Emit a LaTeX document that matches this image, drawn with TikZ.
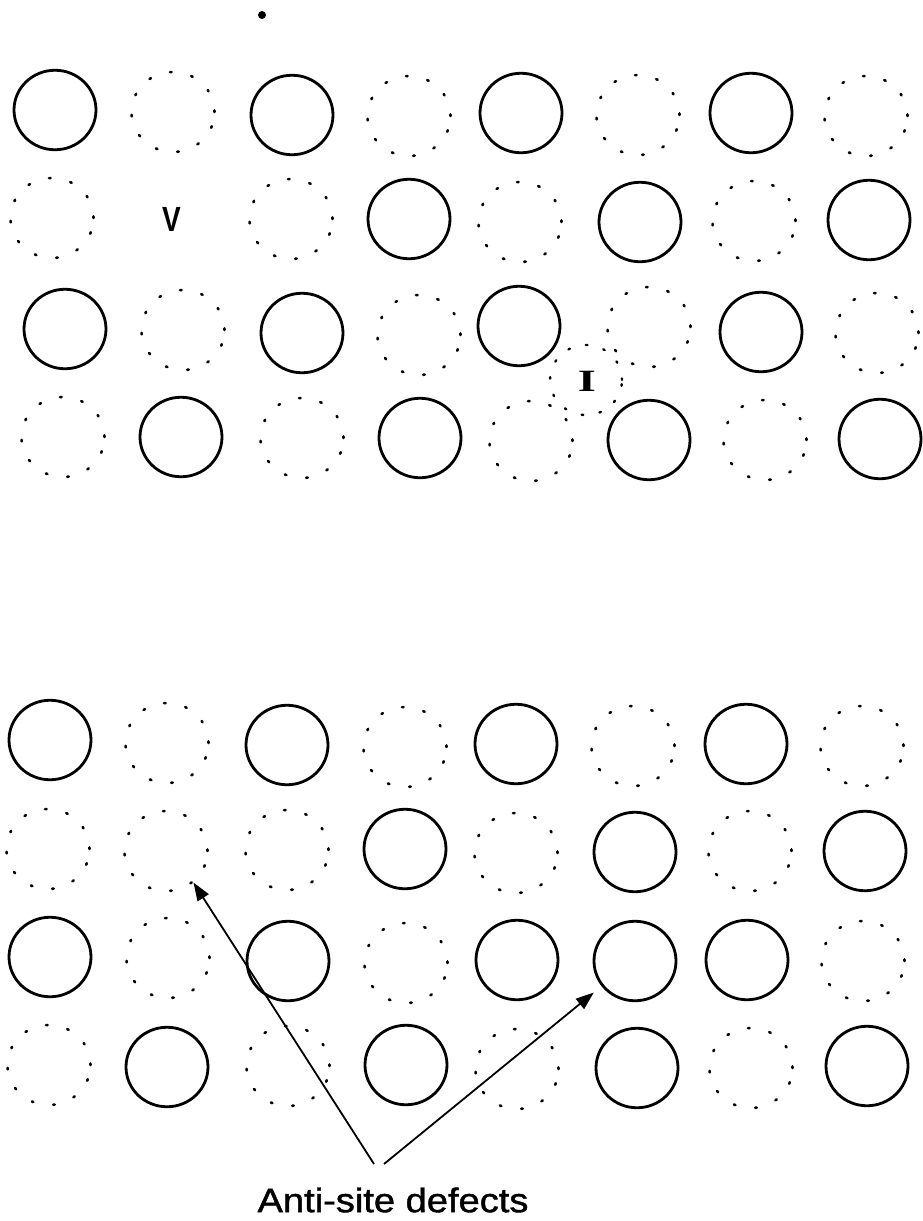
\documentclass[tikz,border=0pt]{standalone}
\usepackage{fontspec}
\usepackage{graphicx}
\setmainfont{Liberation Sans}
\newfontfamily\labelfont[FakeBold=1.2]{Liberation Sans}
\newfontfamily\serifbold{Liberation Serif}
\usetikzlibrary{shapes.geometric,arrows.meta}
\begin{document}
\begin{tikzpicture}[x=1pt,y=-1pt,
  atom/.style={ellipse,draw,line width=2.8pt,minimum width=82pt,minimum height=79.5pt,inner sep=0pt},
  site/.style={ellipse,draw,line width=2.6pt,line cap=round,dash pattern=on 1.6pt off 20.2pt,minimum width=83pt,minimum height=80pt,inner sep=0pt},
  inter/.style={ellipse,draw,line width=2.4pt,line cap=round,dash pattern=on 1.6pt off 16.5pt,minimum width=72pt,minimum height=70pt,inner sep=0pt},
  arrowline/.style={line width=1.8pt,-{Triangle[length=18pt,width=13pt]}},
  lbl/.style={inner sep=0pt}]
\useasboundingbox (0,0) rectangle (923,1221);
% stray dot
\node[circle,fill,minimum size=8pt,inner sep=0pt] (dot) at (262,15) {};
% ---------- top lattice ----------
\node[atom] (t11) at (55,110) {};
\node[site] (t12) at (173,112) {};
\node[atom] (t13) at (292,115) {};
\node[site] (t14) at (409,116) {};
\node[atom] (t15) at (521,113) {};
\node[site] (t16) at (638,115) {};
\node[atom] (t17) at (751,113) {};
\node[site] (t18) at (866,116) {};
\node[site] (t21) at (52,218) {};
\node[lbl,font=\bfseries\fontsize{35}{38}\selectfont] (vac) at (172,219) {\scalebox{0.8}[1]{V}};
\node[site] (t23) at (291,219) {};
\node[atom] (t24) at (409,219) {};
\node[site] (t25) at (520,222) {};
\node[atom] (t26) at (640,222) {};
\node[site] (t27) at (754,221) {};
\node[atom] (t28) at (869,220) {};
\node[atom] (t31) at (65,329) {};
\node[site] (t32) at (183,330) {};
\node[atom] (t33) at (302,333) {};
\node[site] (t34) at (419,335) {};
\node[atom] (t35) at (519,326) {};
\node[site] (t36) at (649,327) {};
\node[atom] (t37) at (761,332) {};
\node[site] (t38) at (877,333) {};
\node[inter] (int) at (586,380) {};
\node[lbl,font=\serifbold\bfseries\fontsize{31}{34}\selectfont] (intlbl) at (587,381) {\scalebox{1.5}[1]{I}};
\node[site] (t41) at (63,437) {};
\node[atom] (t42) at (181,437) {};
\node[site] (t43) at (302,438) {};
\node[atom] (t44) at (420,438) {};
\node[site] (t45) at (531,441) {};
\node[atom] (t46) at (649,440) {};
\node[site] (t47) at (765,440) {};
\node[atom] (t48) at (880,439) {};
% ---------- bottom lattice ----------
\node[atom] (b11) at (50,740) {};
\node[site] (b12) at (167,743) {};
\node[atom] (b13) at (287,745) {};
\node[site] (b14) at (405,747) {};
\node[atom] (b15) at (516,744) {};
\node[site] (b16) at (633,746) {};
\node[atom] (b17) at (746,744) {};
\node[site] (b18) at (862,746) {};
\node[site] (b21) at (48,849) {};
\node[site] (b22) at (166,851) {};
\node[site] (b23) at (287,850) {};
\node[atom] (b24) at (405,849) {};
\node[site] (b25) at (516,853) {};
\node[atom] (b26) at (635,852) {};
\node[site] (b27) at (750,851) {};
\node[atom] (b28) at (865,851) {};
\node[atom] (b31) at (50,957) {};
\node[site] (b32) at (168,958) {};
\node[atom] (b33) at (288,961) {};
\node[site] (b34) at (406,963) {};
\node[atom] (b35) at (517,960) {};
\node[atom] (b36) at (635,961) {};
\node[atom] (b37) at (747,960) {};
\node[site] (b38) at (863,961) {};
\node[site] (b41) at (49,1065) {};
\node[atom] (b42) at (167,1067) {};
\node[site] (b43) at (288,1066) {};
\node[atom] (b44) at (406,1065) {};
\node[site] (b45) at (517,1069) {};
\node[atom] (b46) at (637,1068) {};
\node[site] (b47) at (751,1068) {};
\node[atom] (b48) at (867,1066) {};
% ---------- label and arrows ----------
\node[lbl,font=\labelfont\fontsize{34}{40}\selectfont] (label) at (393,1200) {\scalebox{1.12}[1]{Anti-site defects}};
\coordinate (apexL) at (374,1164);
\coordinate (apexR) at (384,1164);
\draw[arrowline] (apexL) -- (b22.-49);
\draw[arrowline,shorten >=10pt] (apexR) -- (b36.-143);
\end{tikzpicture}
\end{document}
